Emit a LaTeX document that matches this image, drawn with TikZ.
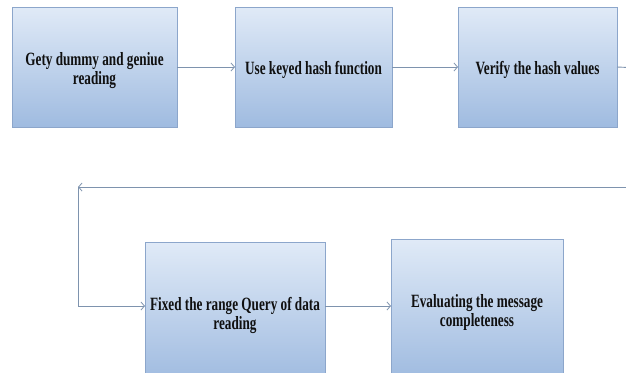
\documentclass[tikz,border=0pt]{standalone}
\usepackage{fontspec}
\setmainfont{Liberation Serif}[BoldFont={Liberation Serif Bold}]
\usetikzlibrary{arrows.meta}
\definecolor{boxtop}{HTML}{E0EAF7}
\definecolor{boxbot}{HTML}{9FBBE0}
\definecolor{boxedge}{HTML}{8CA6CB}
\definecolor{wire}{HTML}{7E93AE}
\definecolor{ink}{HTML}{101010}
\newcommand{\tallbox}[1]{\raisebox{-4pt}[\height][\depth]{\scalebox{1}[1.42]{\begin{tabular}{@{}c@{}}#1\end{tabular}}}}
\tikzset{
  stepbox/.style={draw=boxedge, line width=0.8pt, top color=boxtop, bottom color=boxbot,
    shading angle=0, inner sep=0pt, outer sep=0pt, text=ink,
    font=\bfseries\fontsize{13.2}{13.4}\selectfont},
  flow/.style={draw=wire, line width=0.9pt, -{Straight Barb[length=3.5pt,width=8pt,line width=0.8pt]}},
  wireline/.style={draw=wire, line width=0.9pt}
}
\begin{document}
\begin{tikzpicture}[x=1pt,y=-1pt]
\useasboundingbox (0,0) rectangle (626,372);
\clip (0,0) rectangle (626,372);
\fill[white] (0,0) rectangle (626,372);

\node[stepbox, minimum width=165pt, minimum height=120pt] (get) at (94.5,67) {\tallbox{Gety dummy and geniue\\reading}};
\node[stepbox, minimum width=157pt, minimum height=120pt] (hash) at (313.5,67) {\tallbox{Use keyed hash function}};
\node[stepbox, minimum width=159pt, minimum height=120pt] (verify) at (537.5,67) {\tallbox{Verify the hash values}};
\node[stepbox, minimum width=180pt, minimum height=140pt] (range) at (235,312) {\tallbox{Fixed the range Query of data\\reading}};
\node[stepbox, minimum width=172pt, minimum height=140pt] (eval) at (477,309) {\tallbox{Evaluating the message\\completeness}};

\coordinate (outR) at (640,68);
\coordinate (backR) at (640,187);
\coordinate (backL) at (78,187);
\coordinate (downL) at (78,306);

\draw[flow] (get.east) -- (hash.west);
\draw[flow] (hash.east) -- (verify.west);
\draw[wireline] (verify.east) -- (outR);
\draw[flow] (backR) -- (backL);
\draw[flow] (backL) -- (downL) -- (downL -| range.west);
\draw[flow] (range.east |- 0,306) -- (eval.west |- 0,306);
\end{tikzpicture}
\end{document}
